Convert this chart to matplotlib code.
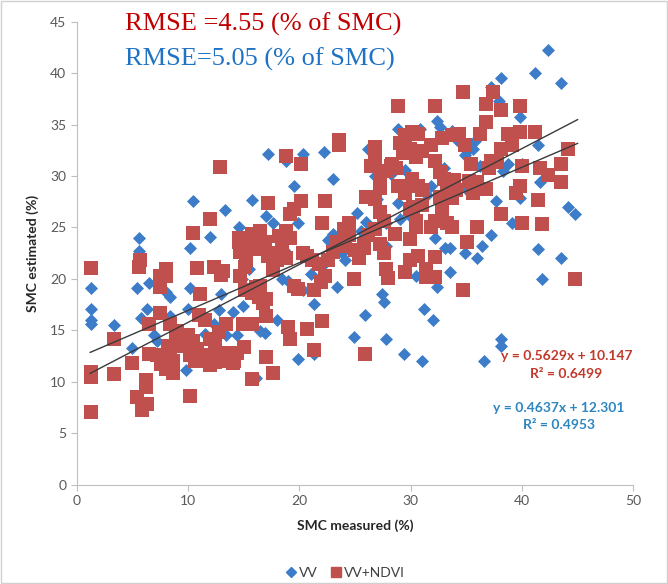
import matplotlib
matplotlib.use("Agg")
import matplotlib.pyplot as plt
from matplotlib.lines import Line2D
from matplotlib.patches import Rectangle
import numpy as np

plt.rcParams["font.family"] = ["Lato", "DejaVu Sans"]

# VV series (blue diamonds): (SMC measured, SMC estimated)
vv_points = [
    (1.3, 19.1), (1.3, 17.1), (1.3, 16.0), (1.3, 15.6), (3.3, 15.5), (5.0, 13.3),
    (5.6, 24.0), (5.6, 22.7), (5.4, 19.1), (5.8, 16.2), (6.3, 17.1), (6.5, 19.6),
    (6.9, 14.5), (8.0, 18.7), (8.4, 18.2), (8.4, 16.4), (9.8, 11.1), (10.2, 23.0),
    (10.2, 19.1), (10.4, 27.6), (10.0, 17.1), (11.1, 16.4), (12.0, 24.1), (12.3, 15.6),
    (13.3, 26.7), (13.0, 18.5), (13.4, 14.5), (14.6, 25.0), (14.8, 20.0), (14.4, 14.5),
    (14.9, 17.4), (15.7, 27.7), (16.1, 10.4), (16.5, 14.9), (16.9, 14.7), (17.2, 32.1),
    (17.0, 26.1), (17.6, 25.4), (18.0, 16.0), (18.4, 20.0), (18.8, 31.5), (19.5, 29.0),
    (19.9, 25.4), (19.9, 12.2), (20.3, 32.1), (20.3, 18.9), (21.3, 17.6), (21.3, 12.7),
    (22.2, 32.3), (22.2, 21.4), (23.0, 29.7), (23.4, 19.2), (23.8, 22.5), (24.1, 21.8),
    (24.9, 14.4), (25.5, 24.7), (25.9, 16.5), (26.2, 32.6), (26.5, 31.2), (26.8, 30.0),
    (27.4, 18.5), (27.6, 17.8), (27.8, 14.2), (27.8, 23.2), (27.8, 25.4), (28.9, 34.6),
    (28.9, 27.4), (29.4, 12.7), (29.5, 30.6), (29.9, 26.1), (30.5, 20.3), (30.8, 34.6),
    (31.0, 12.0), (31.2, 17.1), (31.8, 29.0), (32.0, 16.0), (32.2, 24.0), (32.4, 19.2),
    (32.4, 35.3), (32.6, 34.8), (33.1, 23.0), (33.5, 23.0), (33.5, 20.7), (33.7, 34.4),
    (34.9, 32.0), (35.1, 32.4), (34.9, 22.5), (35.3, 28.3), (35.6, 32.6), (35.8, 33.4),
    (36.0, 22.0), (36.4, 23.2), (36.6, 12.0), (37.2, 24.3), (37.2, 38.6), (37.9, 37.3),
    (37.7, 27.6), (38.1, 14.2), (38.1, 13.5), (38.1, 39.5), (38.3, 30.5), (38.7, 31.2),
    (39.1, 25.4), (39.8, 35.7), (39.8, 27.9), (40.0, 31.2), (41.2, 40.0), (41.4, 33.0),
    (41.6, 29.4), (41.4, 22.9), (41.8, 20.0), (42.3, 42.2), (43.5, 39.0), (43.5, 22.0),
    (44.1, 27.0), (44.8, 26.3), (7.2, 14.0), (9.0, 13.8), (11.5, 14.6), (12.8, 17.0),
    (15.5, 21.0), (16.2, 18.0), (18.6, 22.8), (21.0, 20.5), (23.0, 24.4), (24.6, 23.0),
    (26.0, 25.5), (27.0, 27.8), (28.2, 30.2), (30.0, 27.0), (31.5, 28.2), (33.0, 30.8),
    (34.2, 33.5), (36.2, 31.0), (6.8, 12.8), (10.6, 12.6), (14.0, 16.8), (19.0, 19.8),
    (22.6, 23.8), (25.2, 26.4), (29.0, 25.8), (35.0, 28.8),
]

# VV+NDVI series (red squares): (SMC measured, SMC estimated)
ndvi_points = [
    (1.3, 21.1), (1.3, 11.0), (1.3, 10.5), (1.3, 7.05), (3.3, 14.2), (3.3, 10.8),
    (5.0, 11.8), (5.4, 8.5), (5.9, 7.3), (6.3, 7.8), (6.2, 10.2), (6.2, 9.5),
    (5.7, 21.8), (5.6, 21.2), (6.5, 15.6), (6.5, 12.7), (7.5, 20.3), (7.5, 19.2),
    (8.0, 21.0), (8.0, 20.3), (7.5, 16.7), (7.2, 12.6), (7.6, 11.7), (8.0, 11.2),
    (8.4, 12.6), (8.6, 12.0), (8.2, 13.5), (8.9, 14.3), (9.3, 13.6), (8.6, 10.9),
    (8.4, 15.6), (10.0, 14.5), (9.6, 13.5), (10.4, 14.0), (10.8, 13.2), (10.2, 12.6),
    (11.2, 12.0), (10.6, 12.0), (10.2, 8.6), (10.4, 24.5), (10.8, 21.1), (11.1, 18.5),
    (11.5, 16.0), (12.0, 14.2), (12.4, 13.6), (11.6, 12.6), (12.4, 11.9), (12.7, 12.2),
    (13.1, 12.8), (12.0, 11.6), (12.0, 25.8), (12.3, 21.2), (13.1, 20.8), (13.0, 20.4),
    (12.9, 30.9), (13.4, 15.6), (13.8, 12.4), (14.4, 12.8), (15.0, 13.4), (14.1, 12.0),
    (14.0, 11.8), (13.5, 12.0), (14.6, 24.0), (14.6, 23.6), (15.2, 21.8), (15.3, 23.0),
    (14.7, 22.6), (15.1, 21.2), (14.9, 23.9), (14.7, 20.3), (15.1, 18.9), (14.9, 15.6),
    (15.7, 10.3), (15.7, 24.4), (16.1, 23.8), (16.5, 24.7), (16.9, 23.6), (16.1, 22.9),
    (16.9, 23.0), (17.2, 22.2), (17.6, 22.5), (15.7, 18.6), (16.1, 19.2), (16.5, 19.3),
    (17.0, 18.0), (16.7, 17.7), (15.7, 15.6), (17.0, 16.4), (17.0, 12.4), (17.2, 27.4),
    (17.6, 10.9), (17.6, 20.9), (18.0, 21.8), (18.4, 22.5), (18.8, 24.7), (19.2, 24.0),
    (18.4, 23.0), (18.8, 22.0), (18.8, 31.9), (19.0, 15.3), (19.2, 14.2), (19.2, 26.3),
    (19.5, 26.8), (20.1, 27.6), (20.1, 31.2), (19.5, 19.3), (19.9, 19.0), (20.3, 22.5),
    (20.7, 22.2), (21.1, 21.8), (20.7, 15.1), (21.3, 13.1), (21.3, 18.9), (21.9, 19.7),
    (22.3, 20.3), (22.0, 25.4), (22.3, 27.6), (22.0, 15.9), (22.6, 21.8), (23.0, 22.6),
    (23.4, 23.6), (23.8, 23.2), (23.6, 33.5), (23.6, 33.0), (24.1, 23.6), (24.5, 24.3),
    (24.9, 20.0), (24.5, 25.4), (25.0, 22.8), (25.4, 22.0), (25.8, 23.4), (26.2, 24.3),
    (25.8, 23.0), (25.9, 12.7), (26.4, 31.0), (26.8, 31.5), (27.2, 30.2), (27.2, 28.8),
    (26.8, 27.8), (27.2, 26.5), (27.6, 25.6), (26.8, 24.8), (27.2, 23.4), (26.8, 32.8),
    (27.6, 22.5), (27.8, 21.0), (28.0, 20.1), (27.8, 30.5), (28.2, 31.0), (28.3, 31.2),
    (28.7, 30.8), (28.9, 36.8), (28.9, 29.0), (29.5, 20.7), (29.5, 34.0), (30.1, 34.3),
    (30.7, 34.1), (29.3, 32.2), (29.9, 32.6), (30.5, 31.8), (31.0, 32.4), (29.5, 28.3),
    (30.1, 29.7), (30.7, 29.0), (31.0, 28.6), (29.9, 23.9), (30.5, 25.0), (29.9, 26.8),
    (30.5, 25.6), (29.9, 21.8), (30.7, 22.2), (31.4, 21.0), (31.4, 20.2), (32.2, 36.8),
    (31.8, 33.0), (32.2, 31.5), (32.6, 30.4), (33.0, 29.7), (33.3, 28.8), (31.8, 25.0),
    (32.2, 25.6), (32.8, 26.8), (33.3, 25.4), (33.7, 25.0), (32.2, 22.1), (32.2, 20.2),
    (32.8, 33.7), (33.7, 34.0), (34.3, 34.1), (33.7, 27.9), (34.1, 28.6), (34.7, 38.2),
    (34.7, 18.9), (34.9, 33.0), (35.1, 23.6), (35.4, 31.2), (35.6, 28.3), (36.0, 29.4),
    (36.0, 25.0), (36.2, 34.1), (36.8, 35.2), (36.8, 37.0), (37.4, 38.2), (36.8, 28.7),
    (37.0, 30.8), (37.2, 31.5), (38.1, 36.4), (38.1, 32.6), (38.7, 34.1), (38.1, 26.3),
    (39.1, 33.0), (39.5, 28.3), (39.8, 36.8), (39.8, 34.3), (39.8, 29.0), (40.0, 31.0),
    (40.0, 25.4), (41.2, 34.3), (41.4, 27.7), (41.6, 30.8), (41.8, 25.3), (42.3, 30.1),
    (43.5, 31.2), (43.5, 29.4), (44.1, 32.6), (44.8, 20.0), (31.0, 27.2), (32.6, 28.0),
    (33.9, 29.6), (30.2, 27.0), (28.6, 24.4), (26.0, 28.0), (24.0, 24.8), (21.8, 21.4),
    (18.2, 24.2), (16.4, 18.2), (12.8, 14.8), (11.0, 16.5), (9.0, 14.9), (35.2, 29.5),
    (37.8, 31.4), (29.0, 33.2),
]

# trendline coefficients printed on the chart: slope, intercept, R^2
fit_ndvi = (0.5629, 10.147, 0.6499)
fit_vv = (0.4637, 12.301, 0.4953)

blue = "#3D7CC9"
red = "#C0504D"

vv_x, vv_y = zip(*vv_points)
nd_x, nd_y = zip(*ndvi_points)

fig = plt.figure(figsize=(6.68, 5.84), dpi=100)
ax = fig.add_axes([0.115, 0.170, 0.833, 0.793])

ax.scatter(vv_x, vv_y, marker="D", s=44, color=blue, linewidths=0, zorder=2)
ax.scatter(nd_x, nd_y, marker="s", s=92, color=red, linewidths=0, zorder=3)

xs = np.array([1.2, 45.0])
for k, b, _ in (fit_ndvi, fit_vv):
    ax.plot(xs, k * xs + b, color="#3a3a3a", lw=1.0, zorder=4)

ax.set_xlim(0, 50)
ax.set_ylim(0, 45)
ax.set_xticks(range(0, 51, 10))
ax.set_yticks(range(0, 46, 5))
for s in ["top", "right"]:
    ax.spines[s].set_visible(False)
for s in ["left", "bottom"]:
    ax.spines[s].set_color("#BFBFBF")
ax.tick_params(colors="#BFBFBF", labelcolor="#595959", labelsize=10, length=4, direction="out")

ax.set_xlabel("SMC measured (%)", fontsize=10, fontweight="bold", color="#262626", labelpad=9)
ax.set_ylabel("SMC estimated (%)", fontsize=10, fontweight="bold", color="#262626", labelpad=8)

ax.text(4.3, 44.7, "RMSE =4.55 (% of SMC)", fontsize=19, family="Liberation Serif",
        color="#C00000", va="center")
ax.text(4.3, 41.3, "RMSE=5.05 (% of SMC)", fontsize=19, family="Liberation Serif",
        color="#1F72C4", va="center")

ax.text(44.0, 12.5, "y = %.4fx + %.3f" % fit_ndvi[:2], color="#C0392B", fontsize=10,
        fontweight="bold", ha="center", va="center")
ax.text(44.0, 10.8, "R² = %.4f" % fit_ndvi[2], color="#C0392B", fontsize=10,
        fontweight="bold", ha="center", va="center")
ax.text(43.3, 7.5, "y = %.4fx + %.3f" % fit_vv[:2], color="#2E86C1", fontsize=10,
        fontweight="bold", ha="center", va="center")
ax.text(43.3, 5.8, "R² = %.4f" % fit_vv[2], color="#2E86C1", fontsize=10,
        fontweight="bold", ha="center", va="center")

handles = [Line2D([], [], marker="D", ls="", color=blue, markersize=5),
           Line2D([], [], marker="s", ls="", color=red, markersize=7)]
fig.legend(handles, ["VV", "VV+NDVI"], loc="center", bbox_to_anchor=(0.513, 0.019),
           ncol=2, frameon=False, fontsize=10, handletextpad=-0.2, columnspacing=0.6,
           handlelength=1.5, labelcolor="#404040")

fig.add_artist(Rectangle((0.002, 0.002), 0.996, 0.996, transform=fig.transFigure,
                         fill=False, edgecolor="#D0D0D0", lw=1))

fig.savefig("out.png", dpi=100)
